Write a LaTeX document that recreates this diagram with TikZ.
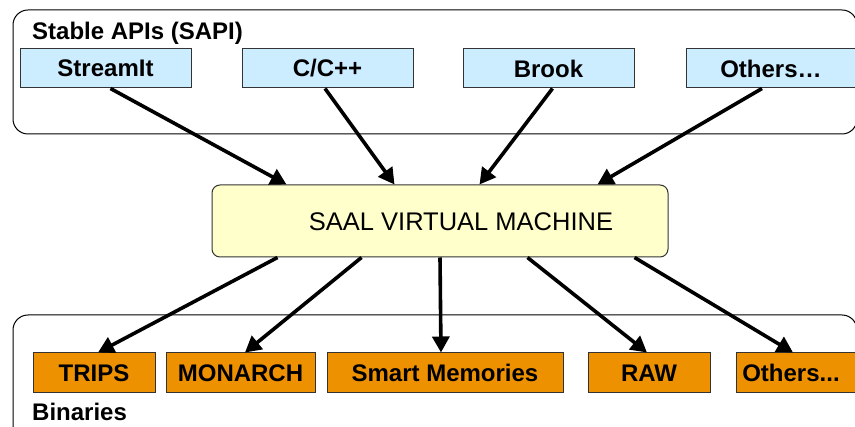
\documentclass[tikz,border=0pt]{standalone}
\usepackage{fontspec}
\setmainfont{Liberation Sans}
\usetikzlibrary{arrows.meta}
\definecolor{apiblue}{RGB}{204,236,255}
\definecolor{binorange}{RGB}{238,145,0}
\definecolor{vmyellow}{RGB}{255,255,204}
\definecolor{edgegray}{RGB}{51,51,51}
\tikzset{
  group/.style={draw=black, line width=1pt, rounded corners=15pt},
  grouplabel/.style={font=\fontsize{24}{28}\selectfont\bfseries, inner sep=0pt},
  apibox/.style={draw=edgegray, line width=1pt, fill=apiblue, inner sep=0pt,
    minimum height=39pt, font=\fontsize{24}{28}\selectfont\bfseries},
  binbox/.style={draw=edgegray, line width=1pt, fill=binorange, inner sep=0pt,
    minimum height=40pt, font=\fontsize{24}{28}\selectfont\bfseries},
  vmbox/.style={draw=edgegray, line width=1pt, fill=vmyellow, rounded corners=8pt,
    inner sep=0pt, minimum width=456pt, minimum height=72pt},
  flow/.style={line width=3.6pt, -{Triangle[length=16pt,width=17pt]}}
}
\begin{document}
\begin{tikzpicture}[x=1pt, y=-1pt]
\useasboundingbox (0,0) rectangle (855,427);
\clip (0,0) rectangle (855,427);

% API group
\draw[group] (13,10) rectangle (857,134);
\node[grouplabel, anchor=base west] (sapilabel) at (32,39.5) {Stable APIs (SAPI)};
\node[apibox, minimum width=171pt] (streamit) at (105.5,68.5) {StreamIt};
\node[apibox, minimum width=171pt] (cpp) at (327.5,68.5) {C/C++};
\node[apibox, minimum width=171pt] (brook) at (548.5,68.5) {Brook};
\node[apibox, minimum width=171pt] (apiothers) at (771.5,68.5) {};
\node[grouplabel] (apiotherstext) at (771,68.5) {Others…};

% virtual machine
\node[vmbox, label={[font=\fontsize{25.5}{30}\selectfont, xshift=21pt, yshift=-1pt]center:SAAL VIRTUAL MACHINE}] (vm) at (440,221) {};

% binaries group
\draw[group] (13,315) rectangle (857,440);
\node[grouplabel, anchor=base west] (binlabel) at (32,420.5) {Binaries};
\node[binbox, minimum width=122pt] (trips) at (94,373) {TRIPS};
\node[binbox, minimum width=149pt] (monarch) at (240.5,373) {MONARCH};
\node[binbox, minimum width=236pt] (smart) at (445,373) {Smart Memories};
\node[binbox, minimum width=122pt] (raw) at (649,373) {RAW};
\node[binbox, minimum width=122pt] (binothers) at (797,373) {};
\node[grouplabel] (binotherstext) at (791,373) {Others...};

% APIs into the virtual machine
\draw[flow] ([xshift=5pt]streamit.south) -- ([xshift=75pt]vm.north west);
\draw[flow] ([xshift=-2.5pt]cpp.south) -- ([xshift=183pt]vm.north west);
\draw[flow] ([xshift=4pt]brook.south) -- ([xshift=268pt]vm.north west);
\draw[flow] ([xshift=-9.5pt]apiothers.south) -- ([xshift=386pt]vm.north west);

% virtual machine out to binaries
\draw[flow] ([xshift=66pt]vm.south west) -- ([xshift=4pt]trips.north);
\draw[flow] ([xshift=150pt]vm.south west) -- ([xshift=4.5pt]monarch.north);
\draw[flow] (vm.south) -- ([xshift=-4pt]smart.north);
\draw[flow] ([xshift=316pt]vm.south west) -- ([xshift=-2pt]raw.north);
\draw[flow] ([xshift=423pt]vm.south west) -- ([xshift=-4pt]binothers.north);
\end{tikzpicture}
\end{document}
